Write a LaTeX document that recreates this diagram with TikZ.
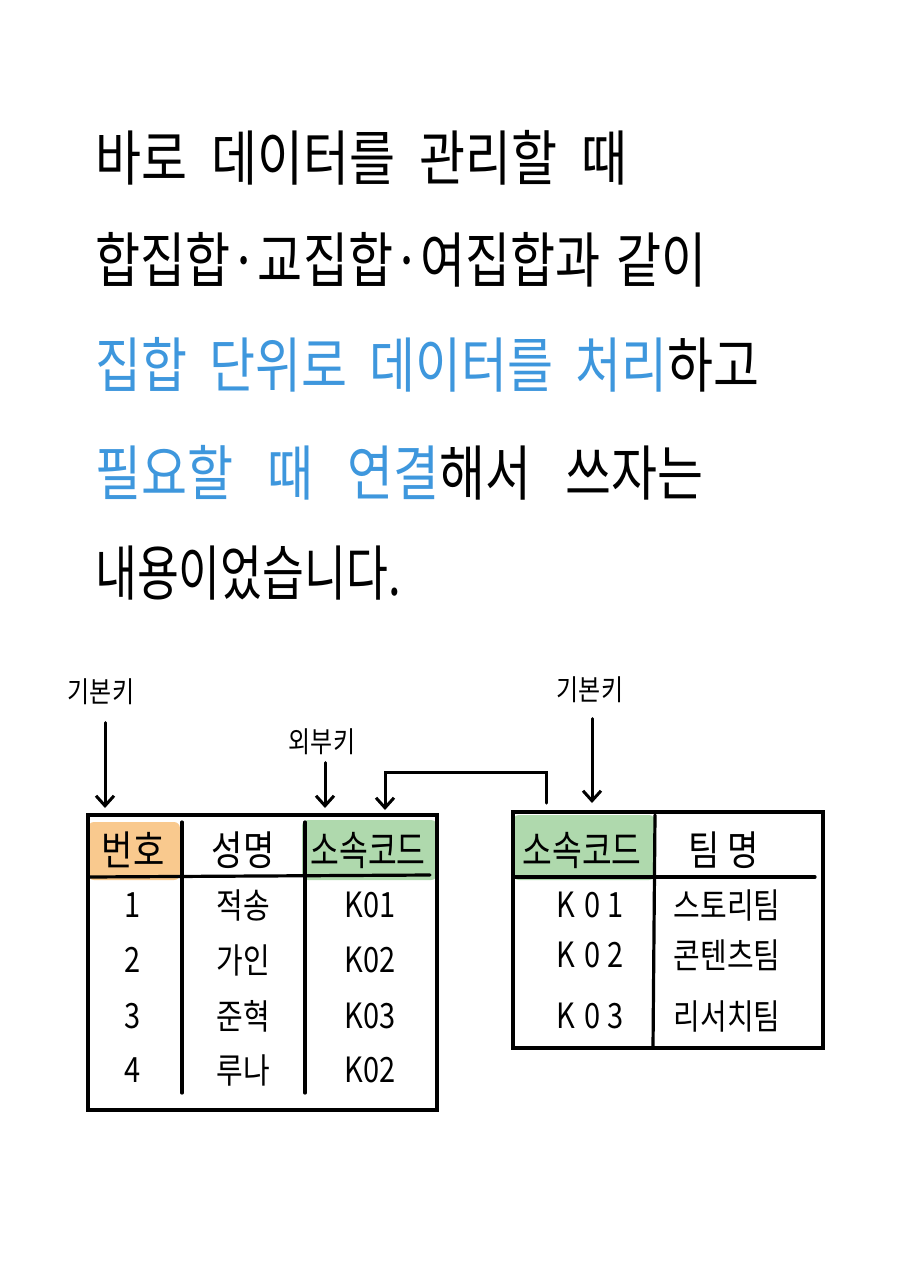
\documentclass[tikz,border=0pt]{standalone}
\usepackage{fontspec}
\setmainfont{Noto Sans CJK KR}
\usetikzlibrary{arrows.meta}

\definecolor{noteblue}{HTML}{3E97DD}
\definecolor{keyorange}{HTML}{F9C98E}
\definecolor{keygreen}{HTML}{AFD9AD}

% taller letters, like the hand-written ones
\newcommand{\tallbox}[2][1]{\scalebox{#1}[1.2]{#2}}

\begin{document}
\begin{tikzpicture}[x=1pt,y=-1pt,
    line/.style={line width=3.2pt,line cap=round},
    keyarrow/.style={line width=3pt,line cap=round,-{Straight Barb[length=10pt,width=18pt,line width=3pt]}},
    body/.style={anchor=base west,inner sep=0pt,font=\fontsize{50}{60}\selectfont},
    head/.style={font=\fontsize{34}{40}\selectfont},
    cell/.style={font=\fontsize{29}{32}\selectfont},
    tag/.style={font=\fontsize{24}{28}\selectfont}]
    \useasboundingbox[fill=white] (0,0) rectangle (904,1280);

    % text
    \node[body] (line1) at (95,180) {\tallbox{\spaceskip=24pt 바로 데이터를 관리할 때}};
    \node[body] (line2) at (95,282) {\tallbox[0.98]{\spaceskip=16pt 합집합·교집합·여집합과 같이}};
    \node[body] (line3) at (95,387) {\tallbox{\spaceskip=22pt \textcolor{noteblue}{집합 단위로 데이터를 처리}하고}};
    \node[body] (line4) at (95,495) {\tallbox{\spaceskip=34pt \textcolor{noteblue}{필요할 때 연결}해서 쓰자는}};
    \node[body] (line5) at (95,595) {\tallbox[0.91]{내용이었습니다.}};

    % left table
    \fill[keyorange,rounded corners=6pt] (88,822) rectangle (180,880);
    \fill[keygreen,rounded corners=6pt] (302,820) rectangle (437,880);
    \draw[line] (88,815) rectangle (437,1110);
    \draw[line] (88,877) -- (430,875);
    \foreach \x in {182,305} {
        \draw[line] (\x,822) to (\x,1093);
    }
    \node[head] (numhead) at (133,850) {\tallbox{번호}};
    \node[head] (namehead) at (243,850) {\tallbox{성명}};
    \node[head] (codehead) at (368,850) {\tallbox[0.92]{소속코드}};
    \foreach \n/\name/\code/\y in {1/적송/K01/905,2/가인/K02/960,3/준혁/K03/1016,4/루나/K02/1070} {
        \node[cell] (num\n) at (133,\y) {\tallbox{\n}};
        \node[cell] (name\n) at (243,\y) {\tallbox{\name}};
        \node[cell] (code\n) at (370,\y) {\tallbox{\code}};
    }

    % right table
    \fill[keygreen,rounded corners=6pt] (513,815) rectangle (655,880);
    \draw[line] (513,812) rectangle (823,1048);
    \draw[line] (513,877) -- (815,877);
    \draw[line] (655,815) to (653,1048);
    \node[head] (teamcodehead) at (582,850) {\tallbox[0.95]{소속코드}};
    \node[head] (teamhead) at (724,850) {\tallbox{팀 명}};
    \foreach \n/\team/\y in {1/스토리팀/905,2/콘텐츠팀/955,3/리서치팀/1016} {
        \node[cell] (tcode\n) at (590,\y) {\tallbox{K\hspace{10pt}0\hspace{7pt}\n}};
        \node[cell] (team\n) at (727,\y) {\tallbox{\team}};
    }

    % keys
    \node[tag] (pkleft) at (101,692) {\tallbox{기본키}};
    \node[tag] (fkey) at (322,742) {\tallbox{외부키}};
    \node[tag] (pkright) at (590,690) {\tallbox{기본키}};
    \coordinate (pklefttip) at (105,808);
    \coordinate (fkeytip) at (325,808);
    \coordinate (pkrighttip) at (592,803);
    \draw[keyarrow,shorten <=14pt] (pkleft.south -| pklefttip) -- (pklefttip);
    \draw[keyarrow,shorten <=4pt] (fkey.south -| fkeytip) -- (fkeytip);
    \draw[keyarrow,shorten <=12pt] (pkright.south -| pkrighttip) -- (pkrighttip);

    % link
    \coordinate (linkstart) at (546,803);
    \coordinate (linkend) at (385,810);
    \draw[keyarrow] (linkstart) -- ++(0,-31) -| (linkend);
\end{tikzpicture}
\end{document}
